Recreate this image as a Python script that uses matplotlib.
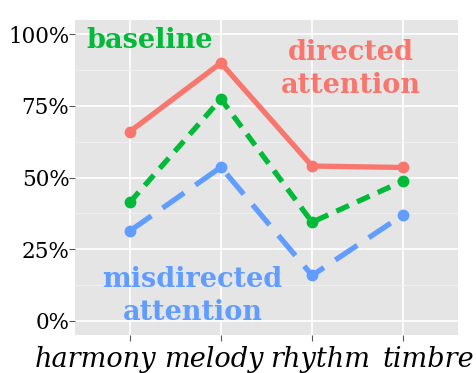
import matplotlib
matplotlib.use("Agg")
import matplotlib.pyplot as plt
from matplotlib.ticker import FixedLocator
from matplotlib.transforms import ScaledTranslation, blended_transform_factory

categories = ["harmony", "melody", "rhythm", "timbre"]
directed = [66, 90, 54, 53.5]
baseline = [41.3, 77.4, 34.4, 48.8]
misdirected = [31.3, 53.6, 15.8, 37.0]
yticks = [0, 25, 50, 75, 100]
ytick_labels = ["0%", "25%", "50%", "75%", "100%"]

RED = "#F8766D"
GREEN = "#00BA38"
BLUE = "#619CFF"

plt.rcParams["font.family"] = ["DejaVu Serif"]

fig = plt.figure(figsize=(4.76, 3.73), dpi=100)
ax = fig.add_axes([75 / 476, 38 / 373, 383 / 476, 315 / 373])
ax.set_facecolor("#E5E5E5")

x = list(range(1, len(categories) + 1))

series = [
    (directed, RED, "-"),
    (baseline, GREEN, (0, (2.6, 1.7))),
    (misdirected, BLUE, (0, (5, 2.6))),
]
for vals, col, ls in series:
    ax.plot(x, vals, color=col, lw=3.8, linestyle=ls, solid_capstyle="butt",
            dash_capstyle="butt", zorder=3)
    ax.plot(x, vals, "o", color=col, ms=8.5, mec="none", zorder=4)

ax.set_xlim(0.4, 4.6)
ax.set_ylim(-5, 105)
ax.set_xticks(x)
ax.set_xticklabels([])
ax.set_yticks(yticks)
ax.set_yticklabels(ytick_labels, fontsize=15.5)
ax.yaxis.set_minor_locator(FixedLocator([12.5, 37.5, 62.5, 87.5]))

# x labels: in the original they sit spread out from their ticks
shifts = [-34, -7, 8, 25]
base = blended_transform_factory(ax.transData, ax.transAxes)
for xi, lab, dx in zip(x, categories, shifts):
    tr = base + ScaledTranslation(dx / 100, -11 / 100, fig.dpi_scale_trans)
    ax.text(xi, 0, lab, transform=tr, fontstyle="italic", fontsize=19.5,
            ha="center", va="top")

ax.grid(True, which="major", color="white", lw=1.2, zorder=0)
ax.grid(True, which="minor", axis="y", color="#F2F2F2", lw=0.6, zorder=0)
ax.set_axisbelow(True)
ax.tick_params(axis="y", which="major", length=4, color="#555555", pad=0)
ax.tick_params(axis="x", which="major", length=4, color="#555555", pad=2)
ax.tick_params(axis="both", which="minor", length=0)
for s in ax.spines.values():
    s.set_visible(False)

ax.text(1.22, 98, "baseline", color=GREEN, fontsize=19.5, fontweight="bold",
        ha="center", va="center")
ax.text(3.42, 87.8, "directed\nattention", color=RED, fontsize=19.5,
        fontweight="bold", ha="center", va="center", linespacing=1.3)
ax.text(1.69, 8.5, "misdirected\nattention", color=BLUE, fontsize=19.5,
        fontweight="bold", ha="center", va="center", linespacing=1.3)

fig.savefig("out.png", dpi=100)
